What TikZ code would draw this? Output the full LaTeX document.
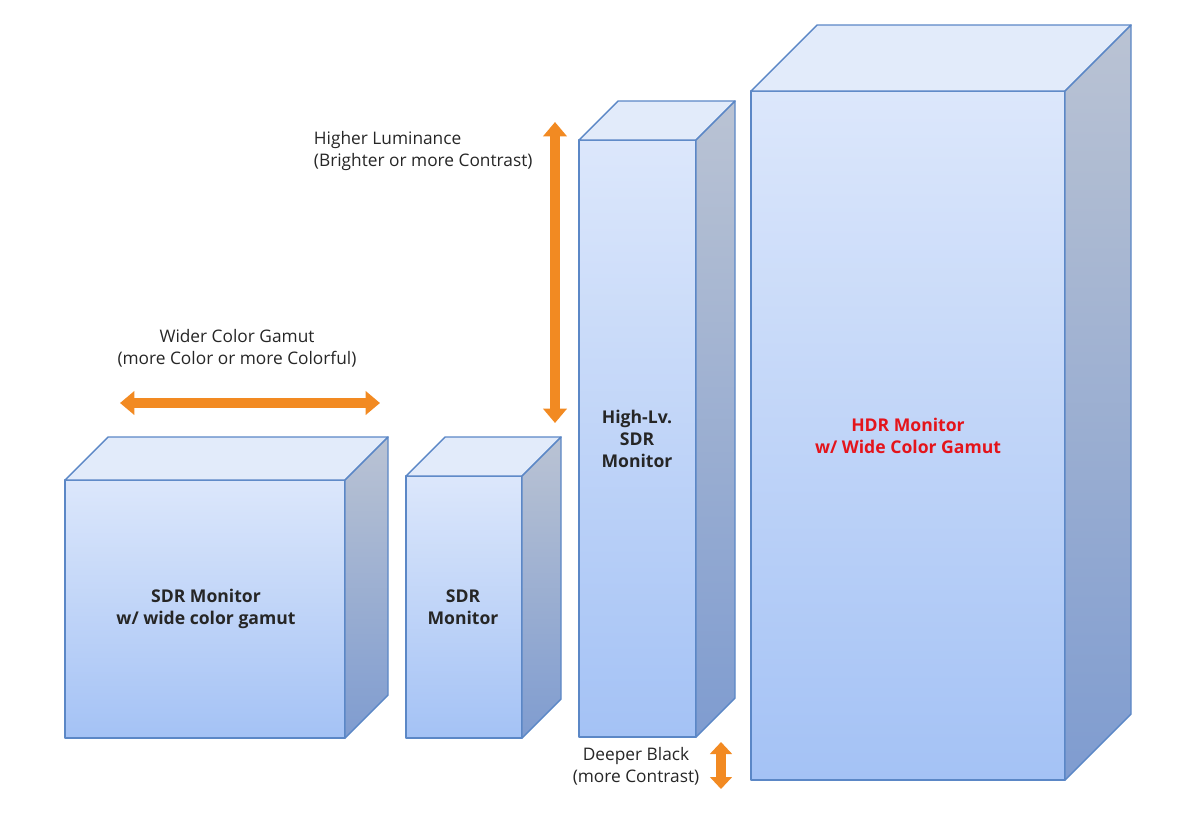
\documentclass[tikz,border=0pt]{standalone}
\usepackage{fontspec}
\setmainfont{Open Sans}
\usepackage{tikz}
\usetikzlibrary{arrows.meta,positioning}
\definecolor{edgeblue}{HTML}{5B87C6}
\definecolor{frontlo}{HTML}{A4C2F5}
\definecolor{fronthi}{HTML}{DCE7FB}
\definecolor{topfill}{HTML}{E2EBFA}
\definecolor{sidehi}{HTML}{BAC3D3}
\definecolor{sidelo}{HTML}{7F9CD0}
\definecolor{arroworange}{HTML}{F28A22}
\definecolor{hdrred}{HTML}{E4141B}
\definecolor{textgray}{HTML}{262626}
\newcommand{\monitorbox}[6]{%
  \coordinate (#1-nw) at (#2,#3);
  \coordinate (#1-se) at (#4,#5);
  \shadedraw[frontface] (#1-nw) rectangle (#1-se);
  \filldraw[topface] (#1-nw) -- ++(#6,-#6) -- (#4+#6,#3-#6) -- (#4,#3) -- cycle;
  \shadedraw[sideface] (#4,#3) -- ++(#6,-#6) -- (#4+#6,#5-#6) -- (#1-se) -- cycle;
}

\begin{document}
\begin{tikzpicture}[x=0.025cm,y=-0.025cm]
\tikzstyle{frontface}=[draw=edgeblue, line width=1pt, line join=round, top color=fronthi, bottom color=frontlo]
\tikzstyle{topface}=[draw=edgeblue, line width=1pt, line join=round, fill=topfill]
\tikzstyle{sideface}=[draw=edgeblue, line width=1pt, line join=round, top color=sidehi, bottom color=sidelo]
\tikzstyle{boxlabel}=[font=\fontsize{12.5}{15.6}\selectfont\bfseries, align=center, text=textgray]
\tikzstyle{note}=[font=\fontsize{12.3}{15.6}\selectfont, text=textgray]
\tikzstyle{bigarrow}=[draw=arroworange, line width=6.5pt, {Triangle[length=0.36cm,width=0.58cm]}-{Triangle[length=0.36cm,width=0.58cm]}]
\useasboundingbox (0,0) rectangle (1200,817);
  % four monitors
  \monitorbox{wide}{65}{480}{345}{738}{43}
  \monitorbox{sdr}{406}{476}{522}{738}{39}
  \monitorbox{hilv}{579}{140}{696}{737}{39}
  \monitorbox{hdr}{751}{91}{1065}{780}{66}
  \node[boxlabel] (lbl-wide) at (206,609) {SDR Monitor\\w/ wide color gamut};
  \node[boxlabel] (lbl-sdr) at (463,607) {SDR\\Monitor};
  \node[boxlabel] (lbl-hilv) at (637,439) {High-Lv.\\SDR\\Monitor};
  \node[boxlabel, text=hdrred] (lbl-hdr) at (908,436) {HDR Monitor\\w/ Wide Color Gamut};
  % arrows and notes
  \coordinate (gamut-l) at (120,403);
  \coordinate (gamut-r) at (380,403);
  \coordinate (lum-t) at (555,122);
  \coordinate (lum-b) at (555,423);
  \coordinate (black-t) at (721,742);
  \coordinate (black-b) at (721,789);
  \draw[bigarrow] (gamut-l) -- (gamut-r);
  \draw[bigarrow] (lum-t) -- (lum-b);
  \draw[bigarrow, {Triangle[length=0.3cm,width=0.54cm]}-{Triangle[length=0.3cm,width=0.54cm]}] (black-t) -- (black-b);
  \node[note, align=left, anchor=west] (lum-note) at (309,151) {Higher Luminance\\(Brighter or more Contrast)};
  \node[note, align=center] (gamut-note) at (237,348) {Wider Color Gamut\\(more Color or more Colorful)};
  \node[note, align=center] (black-note) at (636,766) {Deeper Black\\(more Contrast)};
\end{tikzpicture}
\end{document}
